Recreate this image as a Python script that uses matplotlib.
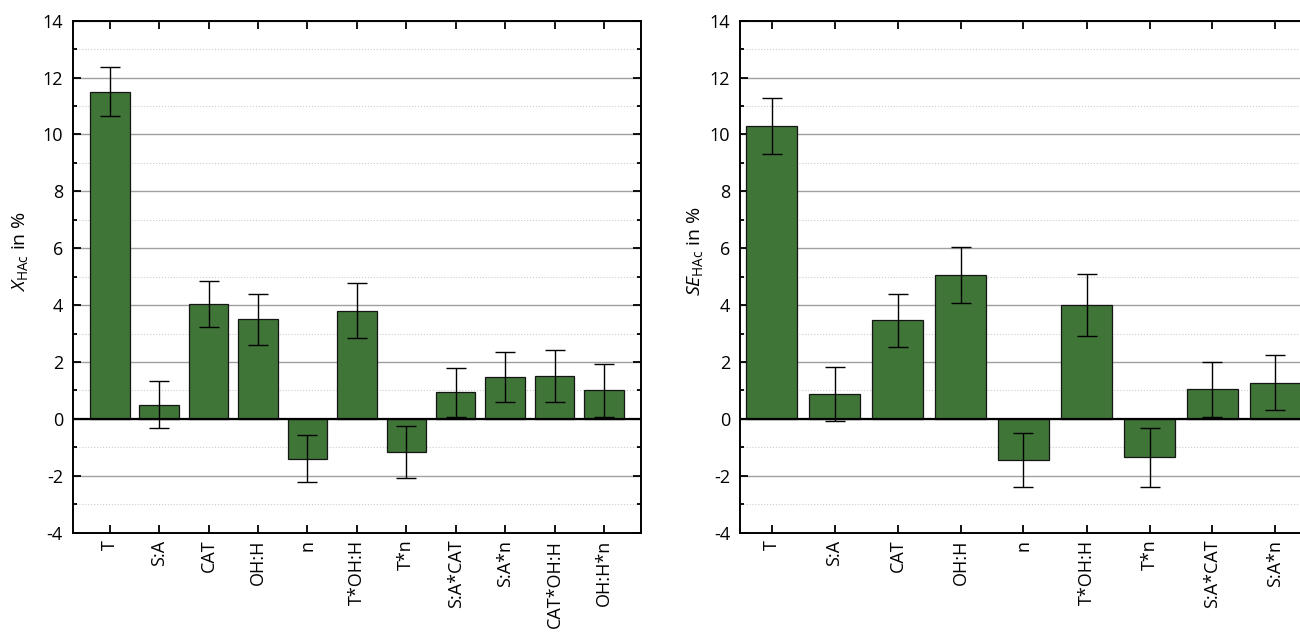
import matplotlib
matplotlib.use('Agg')
import matplotlib.pyplot as plt
from matplotlib.ticker import MultipleLocator

plt.rcParams['font.family'] = ['Open Sans', 'DejaVu Sans']
plt.rcParams['mathtext.fontset'] = 'custom'
plt.rcParams['mathtext.rm'] = 'Open Sans'
plt.rcParams['mathtext.it'] = 'Open Sans:italic'
plt.rcParams['axes.unicode_minus'] = False

# left panel: X_HAc
factors_x = ['T', 'S:A', 'CAT', 'OH:H', 'n', 'T*OH:H', 'T*n',
             'S:A*CAT', 'S:A*n', 'CAT*OH:H', 'OH:H*n']
effect_x = [11.5, 0.5, 4.05, 3.5, -1.4, 3.81, -1.17, 0.93, 1.48, 1.5, 1.01]
err_x = [0.86, 0.82, 0.81, 0.89, 0.83, 0.98, 0.92, 0.85, 0.87, 0.91, 0.93]

# right panel: SE_HAc (cut off at the right edge in the original)
factors_se = ['T', 'S:A', 'CAT', 'OH:H', 'n', 'T*OH:H', 'T*n',
              'S:A*CAT', 'S:A*n']
effect_se = [10.3, 0.87, 3.47, 5.06, -1.44, 4.0, -1.35, 1.04, 1.28]
err_se = [0.97, 0.95, 0.93, 0.99, 0.94, 1.09, 1.04, 0.97, 0.98]

bar_color = '#3f7537'


def draw_panel(ax, labels, values, errors, ylabel, xlim, label_x):
    pos = list(range(len(labels)))
    ax.bar(pos, values, 0.8, color=bar_color, edgecolor='#151515', linewidth=0.9,
           yerr=errors, error_kw=dict(ecolor='black', elinewidth=1.0,
                                      capsize=7.5, capthick=1.0), zorder=3)
    ax.axhline(0, color='black', lw=1.6, zorder=4)
    ax.set_xlim(*xlim)
    ax.set_ylim(-4, 14)
    ax.yaxis.set_major_locator(MultipleLocator(2))
    ax.yaxis.set_minor_locator(MultipleLocator(1))
    ax.set_xticks(pos)
    ax.set_xticklabels(labels, rotation=90, fontsize=13)
    ax.tick_params(axis='both', which='major', direction='in', length=5.5,
                   width=1.3, top=True, right=True, labelsize=13)
    ax.tick_params(axis='x', pad=5)
    ax.tick_params(axis='y', pad=7)
    ax.tick_params(axis='y', which='minor', direction='in', length=3,
                   width=1.3, right=True)
    ax.tick_params(axis='x', which='minor', bottom=False, top=False)
    ax.grid(True, which='major', axis='y', color='#a0a0a0', lw=1.0)
    ax.grid(True, which='minor', axis='y', color='#cccccc', lw=0.8, ls=':')
    ax.set_axisbelow(True)
    for s in ax.spines.values():
        s.set_linewidth(1.4)
        s.set_color('black')
    ax.set_ylabel(ylabel, fontsize=14)
    ax.yaxis.set_label_coords(label_x, 0.55)


fig = plt.figure(figsize=(13, 6.39), dpi=100)
bottom = (639 - 532.7) / 639
height = (532.7 - 20.7) / 639
ax1 = fig.add_axes([72.7 / 1300, bottom, 568.3 / 1300, height])
ax2 = fig.add_axes([740 / 1300, bottom, 693 / 1300, height])

draw_panel(ax1, factors_x, effect_x, err_x,
           r'$\mathit{X}_{\mathrm{HAc}}$ in %', (-0.75, 10.75), -0.076)
draw_panel(ax2, factors_se, effect_se, err_se,
           r'$\mathit{SE}_{\mathrm{HAc}}$ in %', (-0.5, 10.5), -0.05)

fig.savefig('out.png', dpi=100)
